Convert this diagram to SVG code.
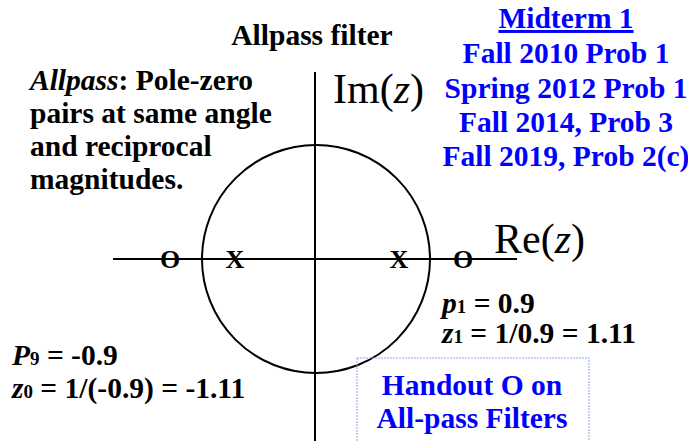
<svg xmlns="http://www.w3.org/2000/svg" width="688" height="441" viewBox="0 0 688 441">
<style>
.b{font-family:"Liberation Serif","Times New Roman",serif;font-weight:bold;font-size:29.5px;fill:#000}
.m{font-family:"Liberation Serif","Times New Roman",serif;font-weight:bold;font-size:26px;fill:#000}
.blue{fill:#0000ff}
.ax{stroke:#000;stroke-width:2;fill:none}
.big{font-family:"Liberation Serif","Times New Roman",serif;font-size:42px;fill:#000}
.sub{font-size:19px}
</style>
<rect width="688" height="441" fill="#fff"/>
<g id="axes">
<line class="ax" x1="315" y1="72" x2="315" y2="441"/>
<line class="ax" x1="113" y1="259" x2="517" y2="259"/>
<circle class="ax" cx="316" cy="259" r="114"/>
</g>
<g id="title"><text class="b" x="312" y="45" text-anchor="middle" font-size="32.5">Allpass filter</text></g>
<g id="im"><text class="big" x="333" y="103">Im(<tspan font-style="italic">z</tspan>)</text></g>
<g id="re"><text class="big" x="494" y="253">Re(<tspan font-style="italic">z</tspan>)</text></g>
<g id="marks">
<text class="m" x="170" y="268" text-anchor="middle">O</text>
<text class="m" x="235" y="268" text-anchor="middle">X</text>
<text class="m" x="399" y="268" text-anchor="middle">X</text>
<text class="m" x="463" y="268" text-anchor="middle">O</text>
</g>
<g id="desc">
<text class="b" x="30" y="90"><tspan font-style="italic">Allpass</tspan>: Pole-zero</text>
<text class="b" x="30" y="123">pairs at same angle</text>
<text class="b" x="30" y="156">and reciprocal</text>
<text class="b" x="30" y="189">magnitudes.</text>
</g>
<g id="refs" text-anchor="middle">
<text class="b blue" x="566" y="28" text-decoration="underline">Midterm 1</text>
<text class="b blue" x="566" y="63">Fall 2010 Prob 1</text>
<text class="b blue" x="566" y="98">Spring 2012 Prob 1</text>
<text class="b blue" x="566" y="132">Fall 2014, Prob 3</text>
<text class="b blue" x="566" y="166">Fall 2019, Prob 2(c)</text>
</g>
<g id="left-vals">
<text class="b" x="12" y="365"><tspan font-style="italic">P</tspan><tspan class="sub">9</tspan> = -0.9</text>
<text class="b" x="12" y="398"><tspan font-style="italic">z</tspan><tspan class="sub">0</tspan> = 1/(-0.9) = -1.11</text>
</g>
<g id="right-vals">
<text class="b" x="442" y="313"><tspan font-style="italic">p</tspan><tspan class="sub">1</tspan> = 0.9</text>
<text class="b" x="442" y="343"><tspan font-style="italic">z</tspan><tspan class="sub">1</tspan> = 1/0.9 = 1.11</text>
</g>
<g id="handout">
<rect x="357" y="358" width="232" height="90" fill="none" stroke="#8fa8f0" stroke-width="1" stroke-dasharray="2,1"/>
<text class="b blue" x="472" y="395" text-anchor="middle">Handout O on</text>
<text class="b blue" x="472" y="428" text-anchor="middle">All-pass Filters</text>
</g>
</svg>
